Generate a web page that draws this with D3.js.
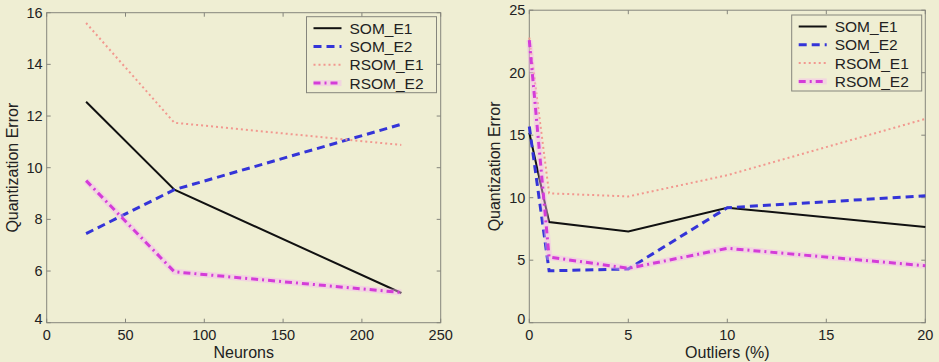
<!DOCTYPE html>
<html>
<head>
<meta charset="utf-8">
<script src="https://cdn.jsdelivr.net/npm/d3@7"></script>
<style>
  html, body { margin: 0; padding: 0; background: #efeed3; }
  svg { display: block; font-family: "Liberation Sans", Arial, sans-serif; }
  .frame { fill: none; stroke: #85857c; stroke-width: 1; }
  .tick-label { font-size: 14.5px; fill: #222; }
  .axis-title { font-size: 16px; fill: #222; }
  .legend-text { font-size: 15.5px; fill: #222; }
</style>
</head>
<body>
<svg id="chart" width="939" height="362"></svg>
<script>
// series names shared by both panels
const seriesNames = ["SOM_E1", "SOM_E2", "RSOM_E1", "RSOM_E2"];

// left panel: error vs number of neurons
const neurons = [25, 81, 225];
const neuronsSomE1 = [12.55, 9.15, 5.15];
const neuronsSomE2 = [7.45, 9.15, 11.68];
const neuronsRsomE1 = [15.6, 11.74, 10.88];
const neuronsRsomE2 = [9.5, 5.97, 5.17];
const neuronsXTicks = [0, 50, 100, 150, 200, 250];
const neuronsYTicks = [4, 6, 8, 10, 12, 14, 16];

// right panel: error vs outlier percentage
const outliers = [0, 1, 5, 10, 20];
const outliersSomE1 = [15.2, 8.05, 7.3, 9.2, 7.65];
const outliersSomE2 = [15.7, 4.15, 4.3, 9.2, 10.15];
const outliersRsomE1 = [22.8, 10.35, 10.1, 11.8, 16.3];
const outliersRsomE2 = [22.6, 5.25, 4.35, 5.95, 4.55];
const outliersXTicks = [0, 5, 10, 15, 20];
const outliersYTicks = [0, 5, 10, 15, 20, 25];

const styles = {
  SOM_E1:  { stroke: "#111111", width: 2,   dash: null },
  SOM_E2:  { stroke: "#3434d8", width: 3,   dash: "8,5" },
  RSOM_E1: { stroke: "#f2988f", width: 2,   dash: "2,3" },
  RSOM_E2: { stroke: "#d43cd8", width: 3,   dash: "7,4,2,4", halo: "#f6b4f0" }
};

const svg = d3.select("#chart");

function drawPanel(p) {
  const x = d3.scaleLinear().domain(p.xDomain).range([p.left, p.right]);
  const y = d3.scaleLinear().domain(p.yDomain).range([p.bottom, p.top]);
  const g = svg.append("g");

  // box
  g.append("rect").attr("class", "frame")
    .attr("x", p.left).attr("y", p.top)
    .attr("width", p.right - p.left).attr("height", p.bottom - p.top);

  // inward ticks on all four sides
  const tickLen = 4;
  p.xTicks.forEach(t => {
    g.append("line").attr("class", "frame")
      .attr("x1", x(t)).attr("x2", x(t)).attr("y1", p.bottom).attr("y2", p.bottom - tickLen);
    g.append("line").attr("class", "frame")
      .attr("x1", x(t)).attr("x2", x(t)).attr("y1", p.top).attr("y2", p.top + tickLen);
    g.append("text").attr("class", "tick-label")
      .attr("x", x(t)).attr("y", p.bottom + 17)
      .attr("text-anchor", "middle").text(t);
  });
  p.yTicks.forEach(t => {
    g.append("line").attr("class", "frame")
      .attr("x1", p.left).attr("x2", p.left + tickLen).attr("y1", y(t)).attr("y2", y(t));
    g.append("line").attr("class", "frame")
      .attr("x1", p.right).attr("x2", p.right - tickLen).attr("y1", y(t)).attr("y2", y(t));
    g.append("text").attr("class", "tick-label")
      .attr("x", p.left - 4).attr("y", y(t) + (t === p.yDomain[0] ? 1 : 5))
      .attr("text-anchor", "end").text(t);
  });

  // titles
  g.append("text").attr("class", "axis-title")
    .attr("x", (p.left + p.right) / 2).attr("y", p.bottom + 34.8)
    .attr("text-anchor", "middle").text(p.xTitle);
  g.append("text").attr("class", "axis-title")
    .attr("transform", `translate(${p.left - 29},${(p.top + p.bottom) / 2}) rotate(-90)`)
    .attr("text-anchor", "middle").text("Quantization Error");

  // lines
  const line = d3.line().x(d => x(d[0])).y(d => y(d[1]));
  seriesNames.forEach((name, i) => {
    const pts = p.xs.map((v, j) => [v, p.series[i][j]]);
    const s = styles[name];
    if (s.halo) {
      g.append("path").datum(pts).attr("d", line)
        .attr("fill", "none").attr("stroke", s.halo)
        .attr("stroke-width", 6).attr("stroke-opacity", 0.45);
    }
    g.append("path").datum(pts).attr("d", line)
      .attr("fill", "none").attr("stroke", s.stroke)
      .attr("stroke-width", s.width)
      .attr("stroke-dasharray", s.dash);
  });

  // legend
  const lg = g.append("g").attr("transform", `translate(${p.legendX},${p.legendY})`);
  lg.append("rect").attr("class", "frame")
    .attr("width", 130).attr("height", 76)
    .attr("fill", "#efeed3");
  seriesNames.forEach((name, i) => {
    const s = styles[name];
    const ry = 11.5 + i * 18.3;
    if (s.halo) {
      lg.append("line").attr("x1", 7).attr("x2", 35).attr("y1", ry).attr("y2", ry)
        .attr("stroke", s.halo).attr("stroke-width", 6).attr("stroke-opacity", 0.45);
    }
    lg.append("line").attr("x1", 7).attr("x2", 35).attr("y1", ry).attr("y2", ry)
      .attr("stroke", s.stroke).attr("stroke-width", s.width)
      .attr("stroke-dasharray", s.dash);
    lg.append("text").attr("class", "legend-text")
      .attr("x", 43).attr("y", ry + 5.5).text(name);
  });
}

drawPanel({
  left: 46.7, right: 440.7, top: 12.7, bottom: 322.7,
  xDomain: [0, 250], yDomain: [4, 16],
  xTicks: neuronsXTicks, yTicks: neuronsYTicks,
  xs: neurons,
  series: [neuronsSomE1, neuronsSomE2, neuronsRsomE1, neuronsRsomE2],
  xTitle: "Neurons",
  legendX: 306.5, legendY: 16.7
});

drawPanel({
  left: 529.3, right: 925.3, top: 10.2, bottom: 322.7,
  xDomain: [0, 20], yDomain: [0, 25],
  xTicks: outliersXTicks, yTicks: outliersYTicks,
  xs: outliers,
  series: [outliersSomE1, outliersSomE2, outliersRsomE1, outliersRsomE2],
  xTitle: "Outliers (%)",
  legendX: 791.7, legendY: 15
});
</script>
</body>
</html>
